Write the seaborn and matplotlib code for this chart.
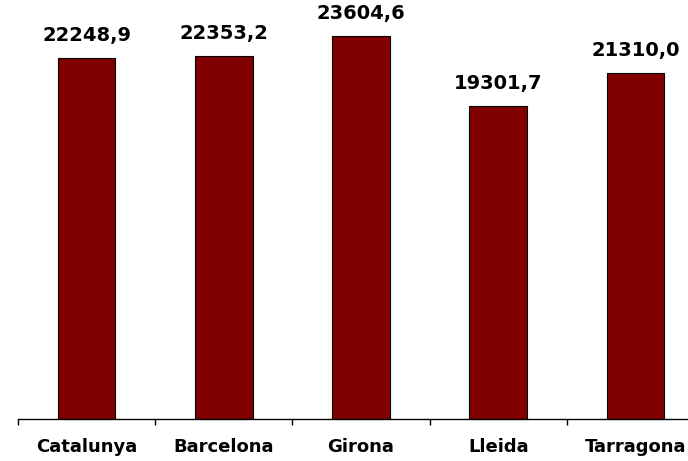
import matplotlib
matplotlib.use("Agg")
import matplotlib.pyplot as plt
from matplotlib.ticker import FixedLocator
import seaborn as sns
import pandas as pd

categories = ["Catalunya", "Barcelona", "Girona", "Lleida", "Tarragona"]
values = [22248.9, 22353.2, 23604.6, 19301.7, 21310.0]
value_labels = ["22248,9", "22353,2", "23604,6", "19301,7", "21310,0"]

sns.set_theme(style="white")
plt.rcParams['font.family'] = ['DejaVu Sans']

df = pd.DataFrame({"cat": categories, "val": values})

W, H = 688, 461
fig = plt.figure(figsize=(W / 100, H / 100), dpi=100)
ax = fig.add_axes([18 / W, 42 / H, 686 / W, 406 / H])

sns.barplot(data=df, x="cat", y="val", color="#800000", width=0.42,
            edgecolor="black", linewidth=0.8, saturation=1, ax=ax)

ax.set_xlim(-0.5, 4.5)
ax.set_ylim(0, 25000)

for i, (v, lab) in enumerate(zip(values, value_labels)):
    ax.annotate(lab, xy=(i, v), xytext=(0, 9), textcoords="offset points",
                ha="center", va="bottom", fontsize=14, fontweight="bold",
                color="black")

for s in ["top", "right", "left"]:
    ax.spines[s].set_visible(False)
ax.spines["bottom"].set_color("black")
ax.spines["bottom"].set_linewidth(1.0)

ax.set_yticks([])
ax.set_xlabel("")
ax.set_ylabel("")
ax.tick_params(axis="x", which="major", length=0, pad=14, labelsize=13)
for t in ax.get_xticklabels():
    t.set_fontweight("bold")
    t.set_color("black")
ax.xaxis.set_minor_locator(FixedLocator([-0.5, 0.5, 1.5, 2.5, 3.5, 4.5]))
ax.tick_params(axis="x", which="minor", bottom=True, direction="out",
               length=4, width=1.0, color="black")

fig.savefig("out.png", dpi=100)
